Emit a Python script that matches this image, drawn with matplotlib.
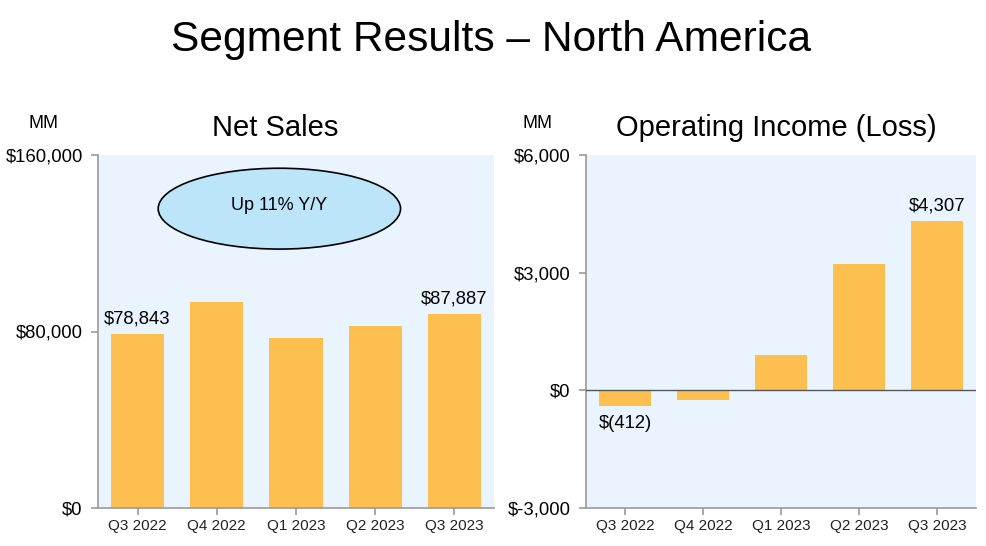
import matplotlib
matplotlib.use("Agg")
import matplotlib.pyplot as plt
from matplotlib.patches import Ellipse

plt.rcParams['font.family'] = ['Liberation Sans', 'DejaVu Sans']

categories = ["Q3 2022", "Q4 2022", "Q1 2023", "Q2 2023", "Q3 2023"]
net_sales = [78843, 93363, 76881, 82546, 87887]
op_income = [-412, -240, 898, 3211, 4307]
net_sales_ticks = [0, 80000, 160000]
net_sales_tick_labels = ["$0", "$80,000", "$160,000"]
op_ticks = [-3000, 0, 3000, 6000]
op_tick_labels = ["$-3,000", "$0", "$3,000", "$6,000"]
net_sales_labels = {0: "$78,843", 4: "$87,887"}
op_labels = {0: "$(412)", 4: "$4,307"}

BAR = "#FDBF50"
BG = "#EAF4FE"
SPINE = "#9A9A9A"

fig = plt.figure(figsize=(9.86, 5.46), dpi=100)
W, H = 986, 546

def make_ax(x0, x1, y0, y1):
    return fig.add_axes([x0 / W, 1 - y1 / H, (x1 - x0) / W, (y1 - y0) / H])

ax1 = make_ax(98, 494, 155, 508)
ax2 = make_ax(586, 976, 155, 508)

for ax in (ax1, ax2):
    ax.set_facecolor(BG)
    for s in ("top", "right"):
        ax.spines[s].set_visible(False)
    for s in ("left", "bottom"):
        ax.spines[s].set_color(SPINE)
        ax.spines[s].set_linewidth(1.2)
    ax.tick_params(axis="both", colors=SPINE, length=5, width=1.2)
    ax.tick_params(axis="y", labelsize=13.3, labelcolor="black", pad=6)
    ax.tick_params(axis="x", labelsize=11, labelcolor="#222222", pad=3)
    ax.set_xlim(-0.5, 4.5)

x = list(range(len(categories)))

# Net sales
ax1.bar(x, net_sales, width=0.67, color=BAR, zorder=2)
ax1.set_ylim(0, 160000)
ax1.set_yticks(net_sales_ticks)
ax1.set_yticklabels(net_sales_tick_labels)
ax1.set_xticks(x)
ax1.set_xticklabels(categories)
for i, lab in net_sales_labels.items():
    ax1.annotate(lab, (i, net_sales[i]), xytext=(0, 5), textcoords="offset points",
                 ha="center", va="bottom", fontsize=13.3)
ell = Ellipse((0.458, 0.848), 0.612, 0.229, transform=ax1.transAxes,
              facecolor="#BDE5F9", edgecolor="black", linewidth=1.2, zorder=3)
ax1.add_patch(ell)
ax1.text(0.458, 0.858, "Up 11% Y/Y", transform=ax1.transAxes, ha="center",
         va="center", fontsize=13, zorder=4)

# Operating income
ax2.bar(x, op_income, width=0.67, color=BAR, zorder=2)
ax2.axhline(0, color="#555555", linewidth=1.0, zorder=3)
ax2.set_ylim(-3000, 6000)
ax2.set_yticks(op_ticks)
ax2.set_yticklabels(op_tick_labels)
ax2.set_xticks(x)
ax2.set_xticklabels(categories)
for i, lab in op_labels.items():
    v = op_income[i]
    if v < 0:
        ax2.annotate(lab, (i, v), xytext=(0, -6), textcoords="offset points",
                     ha="center", va="top", fontsize=13.3)
    else:
        ax2.annotate(lab, (i, v), xytext=(0, 5), textcoords="offset points",
                     ha="center", va="bottom", fontsize=13.3)

fig.text(275 / W, 1 - 128 / H, "Net Sales", fontsize=21, ha="center", va="center")
fig.text(776 / W, 1 - 128 / H, "Operating Income (Loss)", fontsize=21,
         ha="center", va="center")
fig.text(44 / W, 1 - 124 / H, "MM", fontsize=13, ha="center", va="center")
fig.text(537 / W, 1 - 124 / H, "MM", fontsize=13, ha="center", va="center")
fig.text(491 / W, 1 - 40 / H, "Segment Results \u2013 North America", fontsize=30.6,
         ha="center", va="center")

fig.savefig("out.png", dpi=100)
